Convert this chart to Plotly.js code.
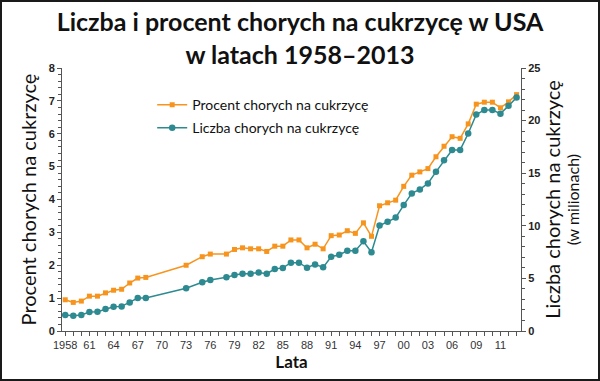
<!DOCTYPE html>
<html><head><meta charset="utf-8">
<script src="https://cdn.plot.ly/plotly-3.0.1.min.js"></script>
<style>
html,body{margin:0;padding:0;background:#fff;}
#wrap{position:relative;width:600px;height:381px;}
#chart{width:600px;height:381px;}
#frame{position:absolute;left:0;top:0;width:600px;height:381px;box-sizing:border-box;border:2px solid #1a1a1a;pointer-events:none;}
</style></head>
<body><div id="wrap"><div id="chart"></div><div id="frame"></div></div>
<script>
const years = [1958,1959,1960,1961,1962,1963,1964,1965,1966,1967,1968,1973,1975,1976,
  1978,1979,1980,1981,1982,1983,1984,1985,1986,1987,1988,1989,1990,1991,1992,1993,1994,
  1995,1996,1997,1998,1999,2000,2001,2002,2003,2004,2005,2006,2007,2008,2009,2010,2011,
  2012,2013,2014];
const percent = [0.95,0.87,0.91,1.06,1.06,1.16,1.24,1.27,1.46,1.61,1.63,2.00,2.26,2.34,
  2.34,2.48,2.53,2.50,2.50,2.42,2.58,2.58,2.77,2.77,2.53,2.64,2.50,2.90,2.92,3.05,2.97,
  3.29,2.88,3.81,3.90,3.98,4.40,4.74,4.84,4.94,5.30,5.62,5.91,5.86,6.30,6.90,6.96,6.96,
  6.79,6.97,7.19];
const millions = [1.53,1.44,1.53,1.81,1.84,2.09,2.31,2.34,2.72,3.13,3.13,4.06,4.63,4.84,
  5.10,5.32,5.44,5.44,5.57,5.44,5.89,6.00,6.49,6.49,6.01,6.33,6.05,7.06,7.25,7.63,7.63,
  8.52,7.48,10.03,10.38,10.78,11.97,13.08,13.46,14.03,15.13,16.22,17.21,17.21,18.77,20.58,
  21.01,21.01,20.66,21.40,22.19];
const xTickYears = [];
const xTickText = [];
const xLabelYears = [1958,1961,1964,1967,1970,1973,1976,1979,1982,1985,1988,1991,1994,1997,2000,2003,2006,2009,2012];
const xLabelText = ["1958","61","64","67","70","73","76","79","82","85","88","91","94","97","00","03","06","09","11"];
for (let y = 1958; y <= 2014; y++) {
  xTickYears.push(y);
  const i = xLabelYears.indexOf(y);
  xTickText.push(i >= 0 ? xLabelText[i] : "");
}
const titleLine1 = "Liczba i procent chorych na cukrzycę w USA";
const titleLine2 = "w latach 1958–2013";
const nameP = "Procent chorych na cukrzycę";
const nameL = "Liczba chorych na cukrzycę";
const orange = "#F7941D";
const teal = "#2C8A90";
const axisCol = "#555";
const tickFont = {family: "Liberation Sans, Arial, sans-serif", size: 11, color: "#333"};
const titleFam = "Lato, 'Open Sans', sans-serif";

const traces = [
  {x: years, y: percent, name: nameP, type: "scatter", mode: "lines+markers",
   line: {color: orange, width: 1.5}, marker: {symbol: "square", size: 5, color: orange},
   legendgroup: "a", xaxis: "x", yaxis: "y"},
  {x: years, y: millions, name: nameL, type: "scatter", mode: "lines+markers",
   line: {color: teal, width: 1.5}, marker: {symbol: "circle", size: 6.5, color: teal},
   legendgroup: "b", xaxis: "x", yaxis: "y2"}
];
const xr = [1957.6, 2014.55];
const layout = {
  width: 600, height: 381,
  margin: {l: 62, r: 79, t: 68, b: 50},
  paper_bgcolor: "#fff", plot_bgcolor: "#fff",
  showlegend: true,
  title: {text: "<b>" + titleLine1 + "<br>" + titleLine2 + "</b>",
    font: {family: titleFam, size: 25, color: "#111"}, x: 0.5, xanchor: "center",
    yref: "container", y: 0.918, yanchor: "top"},
  legend: {x: 0.1965, y: 0.92, xanchor: "left", yanchor: "top", traceorder: "grouped",
    tracegroupgap: 2, font: {family: titleFam, size: 14, color: "#111"}, bgcolor: "rgba(0,0,0,0)"},
  xaxis: {range: xr, tickmode: "array", tickvals: xTickYears, ticktext: xTickText,
    ticks: "outside", ticklen: 4, tickcolor: axisCol, showline: true, linecolor: axisCol,
    linewidth: 1, showgrid: false, zeroline: false, tickfont: tickFont,
    title: {text: "<b>Lata</b>", font: {family: titleFam, size: 17, color: "#111"}, standoff: 4}},
  yaxis: {range: [0, 8], dtick: 1, ticks: "outside", ticklen: 4, tickcolor: axisCol,
    minor: {dtick: 0.2, ticks: "outside", ticklen: 3, tickcolor: axisCol},
    showline: true, linecolor: axisCol, showgrid: false, zeroline: false,
    tickfont: {family: "Liberation Sans, Arial, sans-serif", size: 11, color: "#222", weight: "bold"},
    title: {text: "Procent chorych na cukrzycę", font: {family: titleFam, size: 20, color: "#111"}, standoff: 6}},
  yaxis2: {range: [0, 25], dtick: 5, overlaying: "y", side: "right", anchor: "x",
    ticks: "outside", ticklen: 4, tickcolor: axisCol,
    minor: {dtick: 1, ticks: "outside", ticklen: 3, tickcolor: axisCol},
    showline: true, linecolor: axisCol, showgrid: false, zeroline: false,
    tickfont: {family: "Liberation Sans, Arial, sans-serif", size: 11, color: "#222", weight: "bold"},
    title: {text: "Liczba chorych na cukrzycę",
      font: {family: titleFam, size: 20, color: "#111"}, standoff: 6}},
  xaxis2: {range: xr, overlaying: "x", anchor: "y", matches: "x", tickmode: "array", tickvals: xTickYears,
    ticks: "inside", ticklen: 4, tickcolor: axisCol, showticklabels: false, showline: false, showgrid: false, zeroline: false},
  yaxis3: {range: [0, 8], overlaying: "y", anchor: "x", side: "left", dtick: 1, ticks: "inside", ticklen: 4,
    tickcolor: axisCol, showticklabels: false, showline: false, showgrid: false, zeroline: false},
  yaxis4: {range: [0, 25], overlaying: "y", anchor: "x", side: "right", dtick: 5, ticks: "inside", ticklen: 4,
    tickcolor: axisCol, showticklabels: false, showline: false, showgrid: false, zeroline: false},
  annotations: [
    {text: "(w milionach)", xref: "paper", yref: "paper", x: 1.113, y: 0.5, xanchor: "center", yanchor: "middle",
     textangle: -90, showarrow: false, font: {family: titleFam, size: 16, color: "#111"}}
  ]
};
Plotly.newPlot("chart", traces, layout, {displayModeBar: false, staticPlot: true});
</script></body></html>
